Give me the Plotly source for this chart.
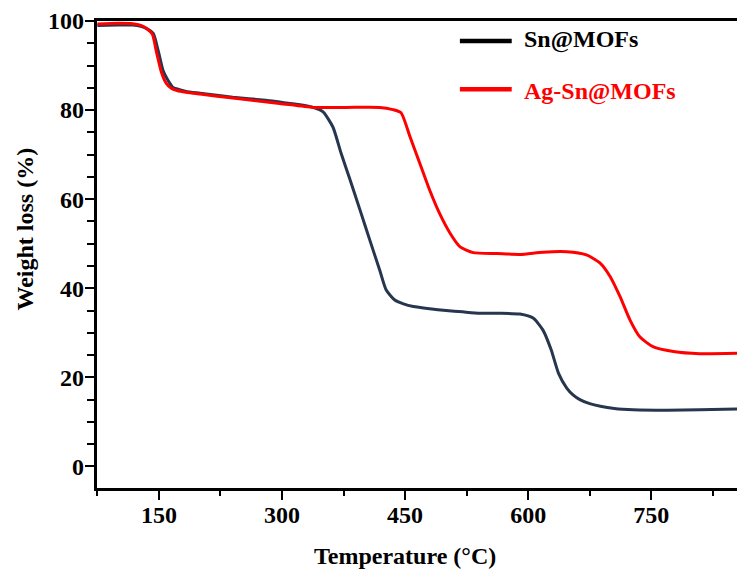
import plotly.graph_objects as go

# Temperature (°C) and weight (%)
sn_temp = [75, 100, 118, 128, 135, 143, 149, 155, 161, 167, 175, 183, 200, 240, 280,
           297, 322, 338, 350, 362, 372, 383, 395, 407, 419, 427, 437, 448, 460, 480,
           500, 520, 541, 565, 590, 606, 618, 628, 637, 647, 655, 663, 675, 688, 705,
           728, 769, 809, 855]
sn_weight = [99.0, 99.1, 99.1, 98.8, 98.3, 97.2, 93.4, 88.9, 86.7, 85.1, 84.6, 84.2,
             83.8, 82.9, 82.2, 81.8, 81.2, 80.6, 79.6, 76.2, 70.3, 64.3, 57.6, 50.8,
             44.1, 39.6, 37.4, 36.5, 35.9, 35.4, 35.0, 34.7, 34.4, 34.4, 34.2, 33.3,
             30.6, 26.2, 20.9, 17.6, 16.0, 15.0, 14.1, 13.5, 13.0, 12.7, 12.6, 12.7, 12.9]

ag_temp = [75, 100, 118, 128, 135, 142, 147, 153, 159, 165, 172, 183, 200, 240, 297,
           338, 378, 419, 435, 445, 456, 468, 480, 492, 505, 517, 533, 562, 590, 618,
           647, 671, 688, 700, 712, 724, 736, 752, 777, 809, 855]
ag_weight = [99.3, 99.5, 99.4, 99.0, 98.3, 97.0, 93.0, 88.5, 86.0, 84.9, 84.4, 84.0,
             83.6, 82.7, 81.5, 80.6, 80.6, 80.6, 80.1, 79.4, 74.0, 68.0, 62.0, 56.8,
             52.3, 49.3, 48.0, 47.8, 47.6, 48.1, 48.2, 47.5, 45.6, 42.6, 38.1, 32.9,
             29.1, 26.9, 25.8, 25.3, 25.4]

series_names = ["Sn@MOFs", "Ag-Sn@MOFs"]
x_ticks = [150, 300, 450, 600, 750]
y_ticks = [0, 20, 40, 60, 80, 100]

X_RANGE = [74.5, 854.5]
Y_RANGE = [-4.85, 100]

FONT = "Liberation Serif"
NAVY = "#26364e"
RED = "#ff0000"

fig = go.Figure()
fig.add_trace(go.Scatter(x=sn_temp, y=sn_weight, mode="lines", name=series_names[0],
                         line=dict(color=NAVY, width=3, shape="spline", smoothing=0.6),
                         showlegend=False, xaxis="x", yaxis="y"))
fig.add_trace(go.Scatter(x=ag_temp, y=ag_weight, mode="lines", name=series_names[1],
                         line=dict(color=RED, width=3, shape="spline", smoothing=0.6),
                         showlegend=False, xaxis="x2", yaxis="y2"))

# legend drawn manually (coloured text)
legend_rows = [(series_names[0], "#000000", 0.957, 0.960),
               (series_names[1], RED, 0.854, 0.849)]
for name, col, ly, ty in legend_rows:
    fig.add_shape(type="line", xref="paper", yref="paper",
                  x0=0.567, x1=0.648, y0=ly, y1=ly,
                  line=dict(color=col, width=4.5))
    fig.add_annotation(xref="paper", yref="paper", x=0.664, y=ty, text=f"<b>{name}</b>",
                       showarrow=False, xanchor="left", yanchor="middle",
                       font=dict(family=FONT, size=24, color=col))

fig.add_annotation(xref="paper", yref="paper", x=0.481, y=-0.146,
                   text="<b>Temperature (°C)</b>", showarrow=False,
                   xanchor="center", yanchor="middle",
                   font=dict(family=FONT, size=24, color="black"))
fig.add_annotation(xref="paper", yref="paper", x=-0.113, y=0.555,
                   text="<b>Weight loss (%)</b>", showarrow=False, textangle=-90,
                   xanchor="center", yanchor="middle",
                   font=dict(family=FONT, size=24, color="black"))

tickfont = dict(family=FONT, size=24, color="black")
fig.update_layout(
    width=737, height=573,
    margin=dict(l=97, r=0, t=21, b=84.5),
    plot_bgcolor="white", paper_bgcolor="white",
    font=dict(family=FONT, size=24, color="black"),
    # axes carrying the frame and tick marks
    xaxis=dict(range=X_RANGE, tickmode="array", tickvals=x_ticks,
               showticklabels=False,
               ticks="outside", ticklen=9, tickwidth=2, tickcolor="black",
               minor=dict(dtick=75, tick0=75, ticks="outside", ticklen=5,
                          tickwidth=2, tickcolor="black"),
               showline=True, linewidth=2.5, linecolor="black", mirror=True,
               showgrid=False, zeroline=False),
    yaxis=dict(range=Y_RANGE, tickmode="array", tickvals=y_ticks,
               showticklabels=False,
               ticks="outside", ticklen=9, tickwidth=2, tickcolor="black",
               minor=dict(dtick=5, tick0=0, ticks="outside", ticklen=7,
                          tickwidth=2, tickcolor="black"),
               showline=True, linewidth=2.5, linecolor="black",
               showgrid=False, zeroline=False),
    # overlaid axes carrying the tick labels
    xaxis2=dict(range=X_RANGE, overlaying="x", anchor="y2", side="bottom",
                tickmode="array", tickvals=x_ticks,
                ticktext=[f"<b>{v}</b>" for v in x_ticks], ticks="",
                showline=False, showgrid=False, zeroline=False,
                tickfont=tickfont, ticklabelstandoff=10),
    yaxis2=dict(range=Y_RANGE, overlaying="y", anchor="x2", side="left",
                tickmode="array", tickvals=y_ticks,
                ticktext=[f"<b>{v}</b>" for v in y_ticks], ticks="",
                showline=False, showgrid=False, zeroline=False,
                tickfont=tickfont, ticklabelstandoff=12),
)

fig.write_html(
    "out.html",
    config={"displayModeBar": False},
    post_script=("document.body.style.margin='0';"
                 "document.body.style.overflow='hidden';"
                 "document.documentElement.style.overflow='hidden';"),
)
